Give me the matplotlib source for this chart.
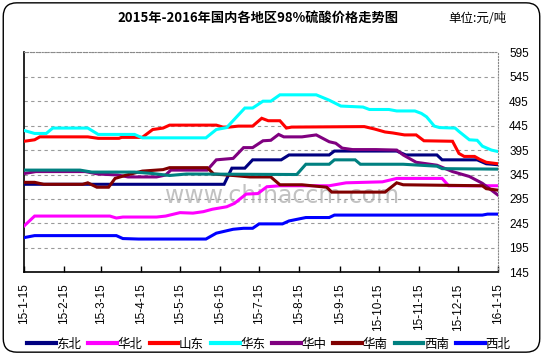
import matplotlib
matplotlib.use("Agg")
import matplotlib.pyplot as plt
from matplotlib.patches import FancyBboxPatch
import pandas as pd

# ── Data ──────────────────────────────────────────────────────────────────────

names = ["东北", "华北", "山东", "华东", "华中", "华南", "西南", "西北"]
colors = ["#000080", "#FF00FF", "#FF0000", "#00FFFF",
          "#800080", "#800000", "#008080", "#0000FF"]

dongbei_d = ["2015-01-15", "2015-06-18", "2015-06-24", "2015-07-04", "2015-07-10",
             "2015-08-01", "2015-08-07", "2015-09-07", "2015-09-11", "2015-10-29",
             "2015-11-05", "2015-11-29", "2015-12-03", "2015-12-30", "2016-01-06",
             "2016-01-15"]
dongbei_v = [325, 325, 358, 358, 375, 375, 385, 385, 393, 393, 385, 385, 375, 375, 367, 365]

huabei_d = ["2015-01-15", "2015-01-23", "2015-03-22", "2015-03-27", "2015-04-01",
            "2015-04-27", "2015-05-04", "2015-05-15", "2015-05-25", "2015-06-02",
            "2015-06-09", "2015-06-20", "2015-06-26", "2015-07-05", "2015-07-14",
            "2015-07-21", "2015-07-31", "2015-09-07", "2015-09-20", "2015-10-18",
            "2015-10-29", "2015-12-03", "2015-12-08", "2016-01-15"]
huabei_v = [240, 260, 260, 256, 258, 258, 260, 267, 266, 269, 274, 279, 286, 305,
            306, 320, 322, 322, 328, 330, 337, 337, 322, 322]

shandong_d = ["2015-01-15", "2015-01-23", "2015-01-27", "2015-03-05", "2015-03-13",
              "2015-03-29", "2015-03-31", "2015-04-16", "2015-04-24", "2015-05-02",
              "2015-05-07", "2015-06-12", "2015-06-17", "2015-06-22", "2015-06-29",
              "2015-07-10", "2015-07-17", "2015-07-22", "2015-07-31", "2015-08-05",
              "2015-08-09", "2015-10-04", "2015-10-12", "2015-10-20", "2015-10-26",
              "2015-11-04", "2015-11-13", "2015-11-19", "2015-12-11", "2015-12-16",
              "2015-12-20", "2015-12-28", "2016-01-01", "2016-01-06", "2016-01-15"]
shandong_v = [413, 416, 422, 422, 419, 419, 421, 421, 437, 440, 446, 446, 442, 442,
              444, 444, 460, 455, 455, 440, 442, 443, 438, 432, 430, 426, 426, 414,
              413, 388, 382, 382, 376, 370, 367]

huadong_d = ["2015-01-15", "2015-01-23", "2015-02-01", "2015-02-06", "2015-03-05",
             "2015-03-13", "2015-04-10", "2015-04-16", "2015-06-04", "2015-06-12",
             "2015-06-20", "2015-07-04", "2015-07-10", "2015-07-18", "2015-07-24",
             "2015-07-31", "2015-08-28", "2015-09-07", "2015-09-16", "2015-10-03",
             "2015-10-08", "2015-10-23", "2015-10-29", "2015-11-12", "2015-11-17",
             "2015-11-21", "2015-11-27", "2015-12-01", "2015-12-13", "2015-12-16",
             "2015-12-24", "2015-12-30", "2016-01-03", "2016-01-10", "2016-01-15"]
huadong_v = [435, 429, 429, 440, 440, 427, 427, 420, 420, 437, 441, 481, 481, 495,
             495, 508, 508, 497, 485, 483, 478, 478, 475, 475, 470, 463, 444, 441,
             440, 433, 416, 415, 403, 395, 392]

huazhong_d = ["2015-01-15", "2015-01-24", "2015-03-03", "2015-03-13", "2015-03-28",
              "2015-04-05", "2015-04-27", "2015-05-04", "2015-05-08", "2015-06-05",
              "2015-06-12", "2015-06-25", "2015-07-03", "2015-07-10", "2015-07-18",
              "2015-07-24", "2015-07-30", "2015-08-03", "2015-08-17", "2015-08-28",
              "2015-09-07", "2015-09-12", "2015-09-17", "2015-09-25", "2015-10-13",
              "2015-10-29", "2015-11-03", "2015-11-13", "2015-11-29", "2015-12-11",
              "2015-12-24", "2016-01-03", "2016-01-15"]
huazhong_v = [347, 351, 351, 346, 344, 340, 340, 344, 354, 354, 375, 378, 400, 400,
              414, 415, 427, 422, 422, 426, 412, 409, 399, 396, 396, 395, 385, 370,
              364, 351, 341, 327, 303]

huanan_d = ["2015-01-15", "2015-01-23", "2015-01-30", "2015-03-01", "2015-03-05",
            "2015-03-12", "2015-03-21", "2015-03-26", "2015-04-04", "2015-04-16",
            "2015-05-02", "2015-05-07", "2015-06-05", "2015-06-10", "2015-06-25",
            "2015-07-08", "2015-07-24", "2015-07-31", "2015-08-17", "2015-09-05",
            "2015-09-09", "2015-10-20", "2015-10-29", "2015-11-03", "2016-01-03",
            "2016-01-06", "2016-01-15"]
huanan_v = [329, 329, 325, 325, 328, 319, 319, 337, 344, 352, 355, 359, 359, 346,
            343, 340, 340, 324, 324, 319, 309, 309, 328, 324, 322, 316, 313]

xinan_d = ["2015-01-15", "2015-02-27", "2015-03-08", "2015-04-10", "2015-04-24",
           "2015-05-07", "2015-05-20", "2015-08-13", "2015-08-20", "2015-09-07",
           "2015-09-11", "2015-09-27", "2015-10-01", "2015-11-03", "2015-11-29",
           "2015-12-03", "2016-01-15"]
xinan_v = [354, 354, 350, 350, 347, 343, 346, 345, 366, 366, 375, 375, 366, 366,
           362, 357, 356]

xibei_d = ["2015-01-15", "2015-01-23", "2015-03-27", "2015-04-01", "2015-04-13",
           "2015-06-04", "2015-06-12", "2015-06-25", "2015-07-03", "2015-07-10",
           "2015-07-15", "2015-08-02", "2015-08-07", "2015-08-20", "2015-09-07",
           "2015-09-11", "2016-01-03", "2016-01-07", "2016-01-15"]
xibei_v = [216, 220, 220, 214, 213, 213, 225, 233, 235, 235, 244, 244, 250, 257,
           257, 262, 262, 264, 264]

series = [(dongbei_d, dongbei_v), (huabei_d, huabei_v), (shandong_d, shandong_v),
          (huadong_d, huadong_v), (huazhong_d, huazhong_v), (huanan_d, huanan_v),
          (xinan_d, xinan_v), (xibei_d, xibei_v)]

tick_dates = ["2015-01-15", "2015-02-15", "2015-03-15", "2015-04-15", "2015-05-15",
              "2015-06-15", "2015-07-15", "2015-08-15", "2015-09-15", "2015-10-15",
              "2015-11-15", "2015-12-15", "2016-01-15"]
tick_labels = ["15-1-15", "15-2-15", "15-3-15", "15-4-15", "15-5-15", "15-6-15",
               "15-7-15", "15-8-15", "15-9-15", "15-10-15", "15-11-15", "15-12-15",
               "16-1-15"]
y_ticks = [145, 195, 245, 295, 345, 395, 445, 495, 545, 595]

# ── Figure ────────────────────────────────────────────────────────────────────

cjk = ["Noto Sans CJK SC", "DejaVu Sans"]
num = ["Liberation Sans", "Noto Sans CJK SC"]

fig = plt.figure(figsize=(5.43, 3.55), dpi=100)
ax = fig.add_axes([0.0446, 0.233, 0.8724, 0.6197])

# outer rounded frame
frame = FancyBboxPatch((0.006, 0.008), 0.988, 0.984,
                       boxstyle="round,pad=0,rounding_size=0.025",
                       transform=fig.transFigure, fill=False,
                       ec="black", lw=1.0, mutation_aspect=543 / 355)
fig.patches.append(frame)

for (d, v), name, c in zip(series, names, colors):
    ax.plot(pd.to_datetime(d), v, color=c, lw=2.2, label=name,
            solid_joinstyle="miter", zorder=3)

# watermark
ax.text(0.545, 0.345, "www.chinaccm.com", transform=ax.transAxes,
        fontsize=17, color="#a8a8a8", alpha=0.7, ha="center", va="center",
        family="DejaVu Sans", zorder=2)

ax.set_xlim(pd.Timestamp("2015-01-15"), pd.Timestamp("2016-01-15"))
ax.set_ylim(145, 595)
ax.set_xticks(pd.to_datetime(tick_dates))
ax.set_xticklabels(tick_labels, rotation=90, fontsize=8.5, family=num)
ax.set_yticks(y_ticks)
ax.yaxis.tick_right()
ax.set_yticklabels([str(t) for t in y_ticks], fontsize=8.5, family=num)
ax.tick_params(axis="y", length=0, pad=8)
ax.tick_params(axis="x", direction="in", length=4, width=1, pad=8)

ax.yaxis.grid(True, color="#9a9a9a", lw=0.8, linestyle=(0, (3, 3)))
ax.set_axisbelow(True)
for s in ["top", "right"]:
    ax.spines[s].set_color("#888888")
    ax.spines[s].set_linestyle(":")
    ax.spines[s].set_linewidth(0.8)
ax.spines["left"].set_linewidth(1.2)
ax.spines["bottom"].set_linewidth(1.2)

fig.text(0.475, 0.949, "2015年-2016年国内各地区98%硫酸价格走势图",
         ha="center", va="center", fontsize=9.5, fontweight="bold", family=cjk)
fig.text(0.88, 0.949, "单位:元/吨", ha="center", va="center",
         fontsize=9, family=cjk)

leg = fig.legend(loc="center left", bbox_to_anchor=(0.05, 0.03), ncol=8,
                 frameon=False, prop={"family": cjk, "size": 9},
                 handlelength=2.3, handletextpad=0.05, columnspacing=0.55,
                 borderpad=0, borderaxespad=0)
for line in leg.get_lines():
    line.set_linewidth(3)

fig.savefig("out.png", dpi=100)
